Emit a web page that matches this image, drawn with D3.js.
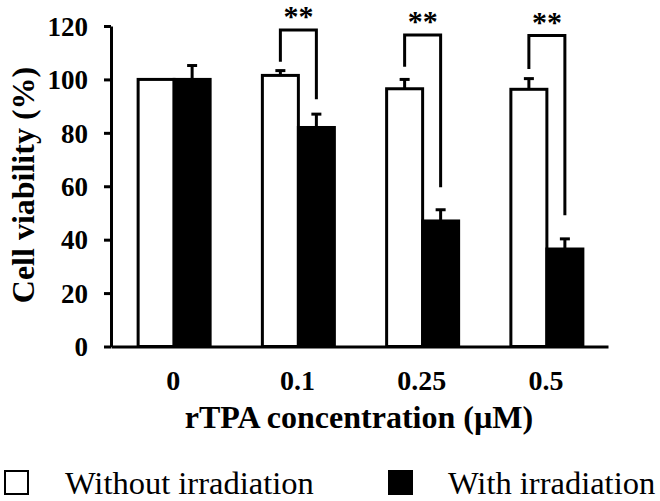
<!DOCTYPE html>
<html>
<head>
<meta charset="utf-8">
<script src="https://cdn.jsdelivr.net/npm/d3@7"></script>
<style>
  html, body { margin: 0; padding: 0; background: #fff; }
  svg { display: block; }
  text { font-family: "Liberation Serif", "Times New Roman", serif; fill: #000; }
</style>
</head>
<body>
<svg id="chart" width="660" height="501"></svg>
<script>
// ---- data ----
const categories = ["0", "0.1", "0.25", "0.5"];
const series = ["Without irradiation", "With irradiation"];
const withoutIrradiation = [100, 101.5, 96.5, 96.3];
const withIrradiation = [100, 82, 47, 36.5];
const withoutErr = [0, 1.8, 3.5, 4];
const withErr = [5.2, 5, 4.2, 3.8];
const yTicks = [0, 20, 40, 60, 80, 100, 120];
const sigGroups = ["0.1", "0.25", "0.5"];
const sigLabels = ["**", "**", "**"];
const sigTop = [118.5, 116.6, 116.4];
const sigLeftEnd = [106.6, 104.7, 103.9];
const sigRightEnd = [92.6, 59.6, 49.1];
const yTitle = "Cell viability (%)";
const xTitle = "rTPA concentration (\u00B5M)";

// ---- layout ----
const svg = d3.select("#chart");
const x = d3.scaleBand().domain(categories).range([111, 608]).padding(0);
const y = d3.scaleLinear().domain([0, 120]).range([346.5, 26]);
const sub = d3.scaleBand().domain(series).range([-35, 37]).padding(0);
const fills = { "Without irradiation": "#fff", "With irradiation": "#000" };
const center = c => x(c) + x.bandwidth() / 2;

const rows = [];
categories.forEach((c, i) => {
  rows.push({ c, s: series[0], v: withoutIrradiation[i], e: withoutErr[i] });
  rows.push({ c, s: series[1], v: withIrradiation[i], e: withErr[i] });
});

// bars
svg.append("g").selectAll("rect").data(rows).join("rect")
  .attr("x", d => center(d.c) + sub(d.s))
  .attr("width", sub.bandwidth())
  .attr("y", d => y(d.v))
  .attr("height", d => y(0) - y(d.v))
  .attr("fill", d => fills[d.s])
  .attr("stroke", "#000")
  .attr("stroke-width", 3);

// error bars
const eg = svg.append("g").attr("stroke", "#000").attr("stroke-width", 3);
rows.filter(d => d.e > 0).forEach(d => {
  const cx = center(d.c) + sub(d.s) + sub.bandwidth() / 2;
  eg.append("line").attr("x1", cx).attr("x2", cx).attr("y1", y(d.v)).attr("y2", y(d.v + d.e));
  eg.append("line").attr("x1", cx - 5).attr("x2", cx + 5).attr("y1", y(d.v + d.e)).attr("y2", y(d.v + d.e));
});

// y axis
const yAxis = svg.append("g").attr("transform", "translate(111,0)")
  .call(d3.axisLeft(y).tickValues(yTicks).tickSize(7).tickSizeOuter(0).tickPadding(16));
yAxis.select(".domain").attr("stroke-width", 3);
yAxis.selectAll(".tick line").attr("stroke-width", 3);
yAxis.selectAll(".tick text")
  .style("font-family", "'Liberation Serif', 'Times New Roman', serif")
  .style("font-weight", "bold").style("font-size", "27px").attr("dy", "0.34em");

// x axis
const xAxis = svg.append("g").attr("transform", `translate(0,${y(0)})`)
  .call(d3.axisBottom(x).tickSize(0).tickSizeOuter(0));
xAxis.select(".domain").attr("stroke-width", 3);
xAxis.selectAll(".tick text")
  .style("font-family", "'Liberation Serif', 'Times New Roman', serif")
  .style("font-weight", "bold").style("font-size", "28px")
  .attr("y", 43.5).attr("dy", 0);

// significance brackets
const bg = svg.append("g");
sigGroups.forEach((g, i) => {
  const xl = center(g) + sub(series[0]) + sub.bandwidth() / 2;
  const xr = center(g) + sub(series[1]) + sub.bandwidth() / 2;
  const path = d3.path();
  path.moveTo(xl, y(sigLeftEnd[i]));
  path.lineTo(xl, y(sigTop[i]));
  path.lineTo(xr, y(sigTop[i]));
  path.lineTo(xr, y(sigRightEnd[i]));
  bg.append("path").attr("d", path.toString()).attr("fill", "none")
    .attr("stroke", "#000").attr("stroke-width", 3);
  bg.append("text").attr("x", (xl + xr) / 2).attr("y", y(sigTop[i]) - 4)
    .attr("text-anchor", "middle").style("font-weight", "bold").style("font-size", "30px")
    .text(sigLabels[i]);
});

// axis titles
svg.append("text").attr("transform", "translate(34,185) rotate(-90)")
  .attr("text-anchor", "middle").style("font-weight", "bold").style("font-size", "32px")
  .text(yTitle);
svg.append("text").attr("x", 359).attr("y", 428)
  .attr("text-anchor", "middle").style("font-weight", "bold").style("font-size", "32px")
  .text(xTitle);

// legend
const legendX = [4, 388];
const lg = svg.append("g");
series.forEach((s, i) => {
  lg.append("rect").attr("x", legendX[i] + 1).attr("y", 471).attr("width", 23).attr("height", 23)
    .attr("fill", fills[s]).attr("stroke", "#000").attr("stroke-width", 2);
  lg.append("text").attr("x", legendX[i] + (i === 0 ? 61 : 60)).attr("y", 494)
    .style("font-size", "32.5px").text(s);
});
</script>
</body>
</html>
